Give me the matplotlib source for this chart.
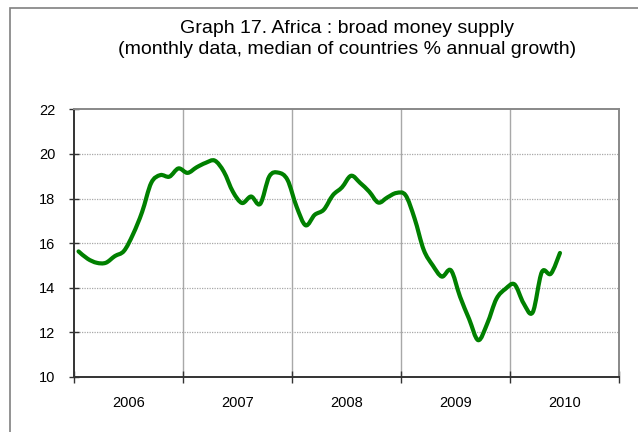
import matplotlib
matplotlib.use("Agg")
import matplotlib.pyplot as plt
from matplotlib.patches import Rectangle, PathPatch
from matplotlib.path import Path
import numpy as np

plt.rcParams['font.family'] = ['Liberation Sans', 'DejaVu Sans']

title = "Graph 17. Africa : broad money supply\n(monthly data, median of countries % annual growth)"
years = ["2006", "2007", "2008", "2009", "2010"]
# monthly values Jan 2006 .. Jun 2010
growth = [
    15.63, 15.30, 15.12, 15.12, 15.42, 15.65, 16.40, 17.40, 18.70, 19.05, 18.98, 19.35,
    19.15, 19.40, 19.60, 19.70, 19.20, 18.30, 17.80, 18.09, 17.76, 18.99, 19.16, 18.84,
    17.64, 16.80, 17.27, 17.50, 18.15, 18.50, 19.02, 18.70, 18.31, 17.82, 18.05, 18.25,
    18.15, 17.10, 15.70, 15.00, 14.50, 14.78, 13.60, 12.60, 11.65, 12.40, 13.50, 13.95,
    14.15, 13.30, 12.90, 14.70, 14.63, 15.56,
]
yticks = [10, 12, 14, 16, 18, 20, 22]

W, H = 638, 432
fig = plt.figure(figsize=(W / 100, H / 100), dpi=100)
ax = fig.add_axes([74 / W, 1 - 377 / H, (619 - 74) / W, (377 - 109.3) / H])

# smoothed line (Excel-style Catmull-Rom Bezier through the monthly values)
x = np.arange(len(growth)) + 0.5
y = np.asarray(growth, dtype=float)
pts = np.column_stack([x, y])
verts = [tuple(pts[0])]
codes = [Path.MOVETO]
t = 1.0 / 6.0
for i in range(len(pts) - 1):
    p0 = pts[i - 1] if i > 0 else pts[i]
    p1 = pts[i]
    p2 = pts[i + 1]
    p3 = pts[i + 2] if i + 2 < len(pts) else pts[i + 1]
    c1 = p1 + (p2 - p0) * t
    c2 = p2 - (p3 - p1) * t
    verts += [tuple(c1), tuple(c2), tuple(p2)]
    codes += [Path.CURVE4] * 3
ax.add_patch(PathPatch(Path(verts, codes), facecolor='none', edgecolor='#008000', lw=3.0,
                       joinstyle='round', capstyle='round', zorder=3))

ax.set_xlim(0, 12 * len(years))
ax.set_ylim(10, 22)
ax.set_yticks(yticks)
ax.set_yticklabels([str(v) for v in yticks], fontsize=10.5)
ax.set_xticks(np.arange(0, 12 * len(years) + 1, 12))
ax.set_xticklabels([])
ax.set_xticks(np.arange(6, 12 * len(years), 12), minor=True)
ax.set_xticklabels(years, minor=True, fontsize=10.5)
ax.tick_params(axis='x', which='minor', length=0, pad=14)
ax.tick_params(axis='x', which='major', direction='inout', length=8, width=1, color='#333333')
ax.tick_params(axis='y', direction='inout', length=7, width=1, color='#333333', pad=10)

for v in yticks[1:-1]:
    ax.axhline(v, color='#a8a8a8', lw=0.9, ls=(0, (1, 1)), zorder=1)
for v in range(12, 12 * len(years), 12):
    ax.axvline(v, color='#a8a8a8', lw=1.0, zorder=1)

ax.spines['left'].set_color('#333333')
ax.spines['bottom'].set_color('#333333')
ax.spines['left'].set_linewidth(1.4)
ax.spines['bottom'].set_linewidth(1.4)
ax.spines['top'].set_color('#888888')
ax.spines['right'].set_color('#888888')
ax.spines['top'].set_linewidth(1.4)
ax.spines['right'].set_linewidth(1.4)

fig.text(347 / W, 1 - 39 / H, title, ha='center', va='center', fontsize=14, linespacing=1.25)

fig.patches.append(Rectangle((10 / W, -0.1), 1.2, (H - 8) / H + 0.1, transform=fig.transFigure,
                             fill=False, edgecolor='#808080', lw=1.2))

fig.savefig('out.png', dpi=100)
